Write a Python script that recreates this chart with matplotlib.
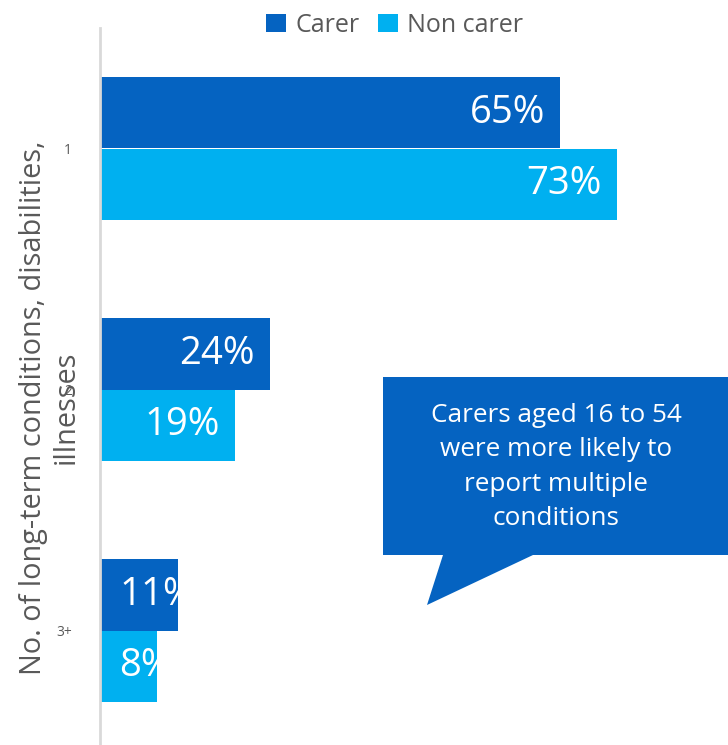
import matplotlib
matplotlib.use("Agg")
import matplotlib.pyplot as plt
from matplotlib.patches import Polygon
import numpy as np

plt.rcParams['font.family'] = ['Open Sans', 'DejaVu Sans']

categories = ["1", "2", "3+"]
series_names = ["Carer", "Non carer"]
carer = [65, 24, 11]
non_carer = [73, 19, 8]
callout_text = "Carers aged 16 to 54\nwere more likely to\nreport multiple\nconditions"
ylabel_text = "No. of long-term conditions, disabilities,\nillnesses"

DARK = "#0563C1"
LIGHT = "#00B0F0"
GREY = "#595959"

W, H = 728, 745
fig = plt.figure(figsize=(W / 100, H / 100), dpi=100)

# axes placed in pixel terms: left edge at x=100, top at y=28
ax_left, ax_top, ax_bottom = 100, 28, 751
ax = fig.add_axes([ax_left / W, (H - ax_bottom) / H, (W - ax_left) / W,
                   (ax_bottom - ax_top) / H])

y = np.arange(len(categories))
bh = 0.295
b1 = ax.barh(y - bh / 2, carer, height=bh, color=DARK, label=series_names[0])
b2 = ax.barh(y + bh / 2, non_carer, height=bh, color=LIGHT, label=series_names[1])

ax.set_xlim(0, 88.7)
ax.set_ylim(2.5, -0.5)

ax.set_yticks(y)
ax.set_yticklabels(categories, fontsize=10, color=GREY)
ax.tick_params(axis='y', length=0, pad=20)
ax.set_xticks([])
for s in ["top", "right", "bottom"]:
    ax.spines[s].set_visible(False)
ax.spines["left"].set_color("#D9D9D9")
ax.spines["left"].set_linewidth(2)

ax.set_ylabel(ylabel_text, fontsize=20.8, color=GREY, linespacing=1.2)
ax.yaxis.set_label_coords(-0.03, 0.475)

# value labels inside the bar ends, clipped to the bar
for cont, vals in ((b1, carer), (b2, non_carer)):
    for rect, v in zip(cont.patches, vals):
        yc = rect.get_y() + rect.get_height() / 2
        if v * 7.08 < 110:
            t = ax.annotate(f"{v}%", xy=(0, yc), xytext=(19, 0),
                            textcoords="offset pixels", ha="left", va="center",
                            color="white", fontsize=27.5)
        else:
            t = ax.annotate(f"{v}%", xy=(v, yc), xytext=(-15, 0),
                            textcoords="offset pixels", ha="right", va="center",
                            color="white", fontsize=27.5)
        t.set_clip_path(rect)

leg = fig.legend(handles=[b1, b2], loc="center", bbox_to_anchor=(0.542, 1 - 25 / H),
                 ncol=2, frameon=False, fontsize=18, handlelength=0.8,
                 handleheight=0.7, handletextpad=0.36, columnspacing=0.76)
for t in leg.get_texts():
    t.set_color(GREY)

# speech-bubble callout
pts_px = [(383, 377), (728, 377), (728, 555), (533, 555), (427, 605),
          (443, 555), (383, 555)]
pts = [(px / W, 1 - py / H) for px, py in pts_px]
fig.patches.append(Polygon(pts, closed=True, transform=fig.transFigure,
                           facecolor=DARK, edgecolor="none", zorder=5))
fig.text(556 / W, 1 - 467 / H, callout_text, ha="center", va="center",
         color="white", fontsize=18.8, linespacing=1.5, zorder=6)

fig.savefig("out.png", dpi=100)
